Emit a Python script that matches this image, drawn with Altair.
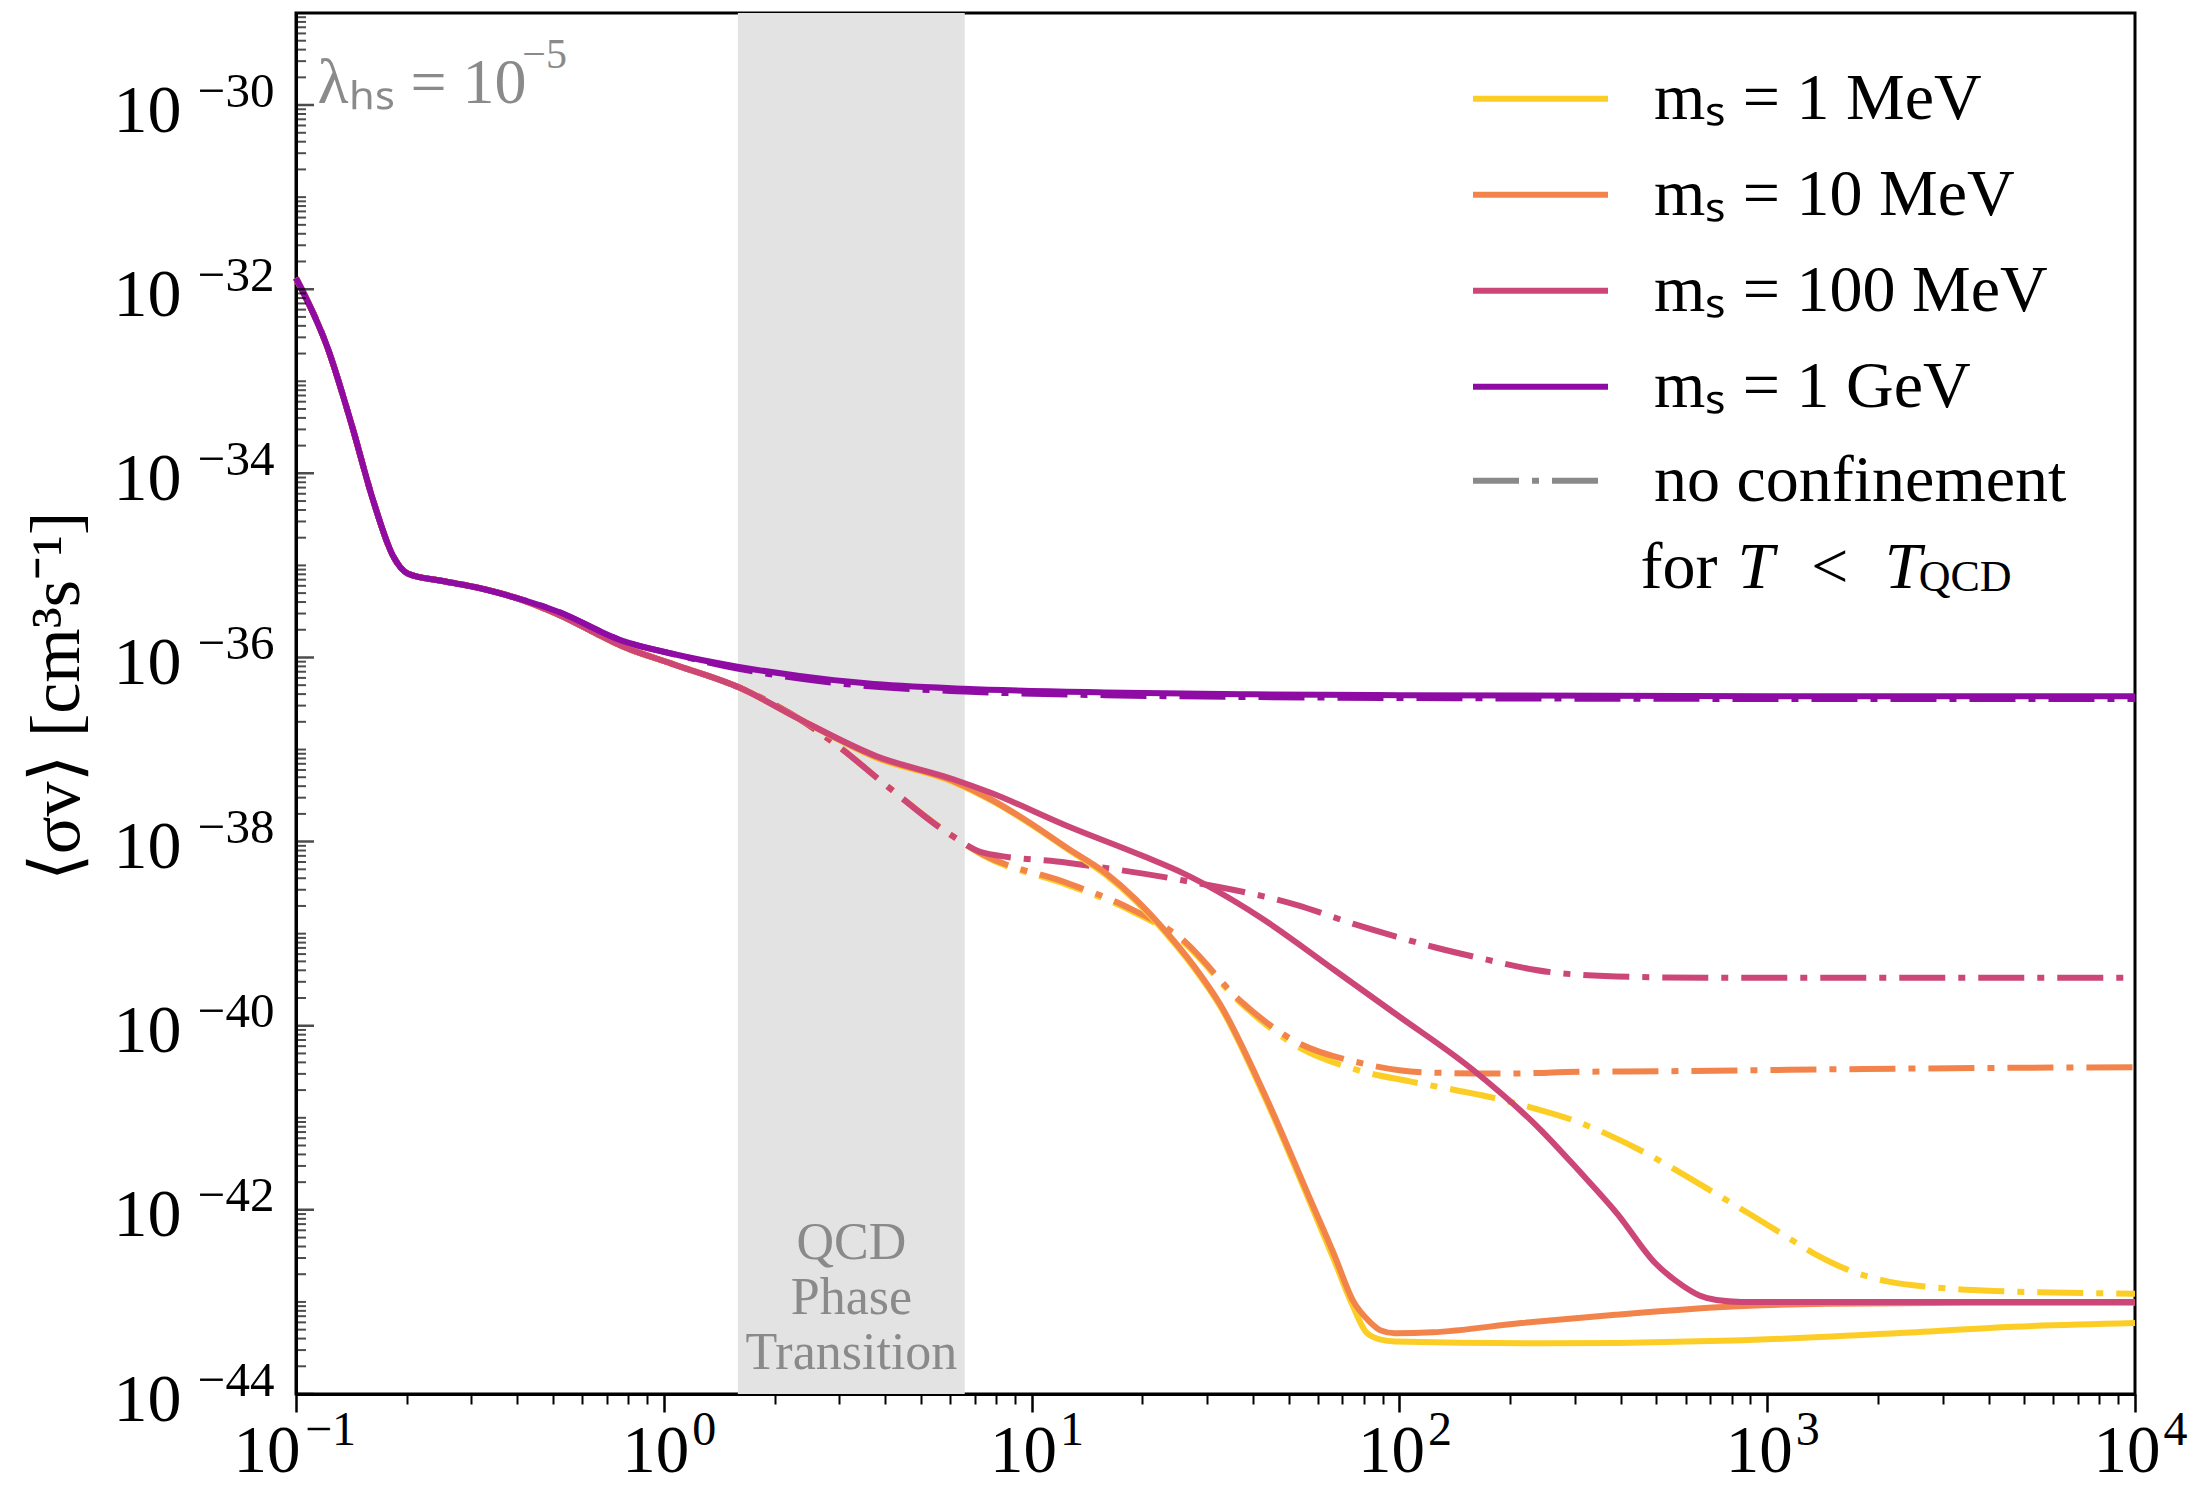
import altair as alt
import numpy as np
import pandas as pd

FONT = "Liberation Serif"

# ---------------- axes / ranges ----------------
X_DOMAIN = [0.1, 1e4]
Y_DOMAIN = [1e-44, 1e-29]
QCD_BAND = [1.59, 6.58]
x_major = [0.1, 1, 10, 100, 1000, 10000]
y_major_exp = [-30, -32, -34, -36, -38, -40, -42, -44]

# ---------------- legend ----------------
mass_labels = ["mₛ = 1 MeV", "mₛ = 10 MeV", "mₛ = 100 MeV", "mₛ = 1 GeV"]
mass_colors = ["#FCCE25", "#F2844B", "#CC4778", "#8E0CA4"]
dash_label = "no confinement"
dash_color = "#8a8a8a"
DASH = [46, 13, 7, 13]

# ---------------- curves: log10(x), log10(<sigma v>) ----------------
common_lx = [-1.0, -0.913, -0.851, -0.789, -0.737, -0.695, -0.601, -0.508, -0.404]
common_ly = [-31.88, -32.65, -33.44, -34.31, -34.89, -35.09, -35.17, -35.24, -35.35]

purple_lx = [-0.289, -0.112, 0.023, 0.2, 0.369, 0.55, 0.817, 1.2, 1.6, 2.0, 3.0, 4.0]
purple_ly = [-35.50, -35.82, -35.96, -36.10, -36.20, -36.28, -36.34, -36.38, -36.40, -36.41, -36.42, -36.42]
purple_dd_ly = [-35.50, -35.82, -35.96, -36.12, -36.23, -36.31, -36.37, -36.41, -36.43, -36.44, -36.45, -36.45]

light_lx = [-0.289, -0.112, 0.023, 0.207, 0.369]
light_ly = [-35.53, -35.88, -36.07, -36.33, -36.67]

yellow_lx = [0.577, 0.785, 0.889, 0.993, 1.097, 1.201, 1.284, 1.368, 1.441, 1.513, 1.632, 1.758,
             1.823, 1.873, 1.91, 1.95, 1.988, 2.396, 2.906, 3.35, 3.671, 4.0]
yellow_ly = [-37.09, -37.35, -37.55, -37.80, -38.08, -38.36, -38.65, -39.01, -39.37, -39.79, -40.76, -41.93,
             -42.55, -43.04, -43.33, -43.41, -43.43, -43.45, -43.42, -43.34, -43.27, -43.23]
orange_lx = [0.577, 0.785, 0.889, 0.993, 1.097, 1.201, 1.284, 1.368, 1.441, 1.513, 1.632, 1.758,
             1.823, 1.873, 1.918, 1.95, 1.988, 2.09, 2.331, 2.587, 2.906, 3.16, 3.54, 4.0]
orange_ly = [-37.08, -37.34, -37.54, -37.79, -38.07, -38.34, -38.63, -38.99, -39.35, -39.77, -40.73, -41.89,
             -42.49, -42.98, -43.21, -43.31, -43.34, -43.33, -43.23, -43.14, -43.05, -43.02, -43.01, -43.01]
pink_lx = [0.577, 0.785, 0.889, 1.097, 1.305, 1.41, 1.617, 1.825, 1.989, 2.197, 2.384, 2.487, 2.592,
           2.696, 2.769, 2.816, 2.862, 2.93, 3.5, 4.0]
pink_ly = [-37.07, -37.32, -37.47, -37.83, -38.16, -38.34, -38.81, -39.40, -39.87, -40.47, -41.13, -41.57,
           -42.04, -42.58, -42.82, -42.93, -42.98, -43.0, -43.0, -43.0]

dd_lx = [0.473, 0.608, 0.785]
dd_ly = [-36.96, -37.40, -37.94]
yellow_dd_lx = [0.868, 1.097, 1.254, 1.409, 1.565, 1.708, 1.885, 2.028, 2.154, 2.258, 2.364, 2.468,
                2.566, 2.667, 2.759, 2.854, 2.95, 3.04, 3.13, 3.232, 3.33, 3.45, 3.618, 4.0]
yellow_dd_ly = [-38.15, -38.47, -38.72, -39.08, -39.74, -40.19, -40.48, -40.605, -40.70, -40.785, -40.894,
                -41.02, -41.18, -41.377, -41.584, -41.81, -42.04, -42.26, -42.48, -42.67, -42.78, -42.84,
                -42.88, -42.91]
orange_dd_lx = [0.868, 1.097, 1.254, 1.409, 1.565, 1.708, 1.895, 2.072, 2.272, 2.504, 2.707, 2.926,
                3.139, 3.36, 4.0]
orange_dd_ly = [-38.14, -38.45, -38.70, -39.06, -39.72, -40.15, -40.405, -40.507, -40.52, -40.50, -40.495,
                -40.485, -40.475, -40.466, -40.45]
pink_dd_lx = [0.868, 1.097, 1.409, 1.722, 1.88, 1.989, 2.098, 2.2025, 2.4155, 2.634, 2.9, 4.0]
pink_dd_ly = [-38.12, -38.23, -38.42, -38.69, -38.90, -39.03, -39.15, -39.25, -39.42, -39.47, -39.48, -39.48]

# ---------------- helpers ----------------
xscale = alt.Scale(type="log", domain=X_DOMAIN, nice=False)
yscale = alt.Scale(type="log", domain=Y_DOMAIN, nice=False)
EXP = "round(log(datum.value)/LN10)"
SUP_EXPR = f"{EXP} < 0 ? '−' + abs({EXP}) : '' + {EXP}"

color_enc = alt.Color(
    "series:N",
    scale=alt.Scale(domain=mass_labels, range=mass_colors),
    legend=alt.Legend(
        title=None, orient="none", legendX=1174, legendY=38,
        symbolType="stroke", symbolSize=18225, symbolStrokeWidth=6,
        labelFont=FONT, labelFontSize=66, labelColor="black", labelOffset=43,
        rowPadding=0, clipHeight=95.5,
        labelLimit=800, padding=0,
    ),
)
dash_enc = alt.StrokeDash(
    "kind:N",
    scale=alt.Scale(domain=[dash_label], range=[DASH]),
    legend=alt.Legend(
        title=None, orient="none", legendX=1174, legendY=420,
        symbolType="stroke", symbolSize=18225, symbolStrokeWidth=6,
        symbolStrokeColor=dash_color, clipHeight=95.5,
        labelFont=FONT, labelFontSize=66, labelColor="black", labelOffset=43,
        labelLimit=800, padding=0,
    ),
)


def xy(xaxis=None, yaxis=None):
    return dict(
        x=alt.X("x:Q", scale=xscale, axis=xaxis),
        y=alt.Y("y:Q", scale=yscale, axis=yaxis),
    )


def curve(label, lx, ly, dashed):
    df = pd.DataFrame({
        "x": np.power(10.0, np.array(lx, dtype=float)),
        "y": np.power(10.0, np.array(ly, dtype=float)),
        "series": label,
        "kind": dash_label if dashed else "solid",
    })
    enc = xy()
    enc["color"] = color_enc
    if dashed:
        enc["strokeDash"] = dash_enc
    return alt.Chart(df).mark_line(strokeWidth=6, interpolate="monotone").encode(**enc)


def text_layer(lx, ly, text, **kw):
    df = pd.DataFrame({"x": [10.0 ** lx], "y": [10.0 ** ly]})
    return alt.Chart(df).mark_text(text=text, font=FONT, **kw).encode(**xy())


carrier_df = pd.DataFrame({"x": [1.0], "y": [1e-36]})


def axis_carrier(xaxis=None, yaxis=None):
    return alt.Chart(carrier_df).mark_point(opacity=0).encode(**xy(xaxis, yaxis))


def label_axis(orient, values, expr, size, pad, **kw):
    return alt.Axis(orient=orient, values=values, labelExpr=expr, ticks=False, tickSize=0,
                    domain=False, grid=False, title=None, labelFont=FONT, labelFontSize=size,
                    labelColor="black", labelPadding=pad, labelFlush=False, labelOverlap=False,
                    labelBaseline="alphabetic", **kw)


# ---------------- band ----------------
band_df = pd.DataFrame({"x": [QCD_BAND[0]], "x2": [QCD_BAND[1]]})
band = alt.Chart(band_df).mark_rect(color="#e3e3e3").encode(
    x=alt.X("x:Q", scale=xscale, axis=None), x2="x2:Q")

qcd_text = text_layer(0.51, -42.364, ["QCD", "Phase", "Transition"], fontSize=52,
                      color="#8a8a8a", align="center", baseline="middle", lineHeight=55)

lines = [
    curve(mass_labels[0], common_lx + light_lx + dd_lx + yellow_dd_lx,
          common_ly + light_ly + dd_ly + yellow_dd_ly, True),
    curve(mass_labels[1], common_lx + light_lx + dd_lx + orange_dd_lx,
          common_ly + light_ly + dd_ly + orange_dd_ly, True),
    curve(mass_labels[2], common_lx + light_lx + dd_lx + pink_dd_lx,
          common_ly + light_ly + dd_ly + pink_dd_ly, True),
    curve(mass_labels[3], common_lx + purple_lx, common_ly + purple_dd_ly, True),
    curve(mass_labels[0], common_lx + light_lx + yellow_lx, common_ly + light_ly + yellow_ly, False),
    curve(mass_labels[1], common_lx + light_lx + orange_lx, common_ly + light_ly + orange_ly, False),
    curve(mass_labels[2], common_lx + light_lx + pink_lx, common_ly + light_ly + pink_ly, False),
    curve(mass_labels[3], common_lx + purple_lx, common_ly + purple_ly, False),
]

texts = [
    text_layer(-0.9416, -29.98, "λₕₛ = 10", fontSize=64, color="#8a8a8a", align="left",
               baseline="alphabetic"),
    text_layer(-0.385, -29.60, "−5", fontSize=42, color="#8a8a8a", align="left", baseline="alphabetic"),
    text_layer(2.6555, -35.03, "for", fontSize=66, color="black", align="left", baseline="middle"),
    text_layer(2.919, -35.03, "T\u2002<\u2002T", fontSize=66, color="black", align="left",
               baseline="middle", fontStyle="italic"),
    text_layer(3.412, -35.135, "QCD", fontSize=44, color="black", align="left", baseline="middle"),
]

# ---------------- ticks ----------------
y_major_vals = [10.0 ** e for e in y_major_exp]
y_minor_vals = [k * 10.0 ** e for e in range(-44, -29) for k in range(1, 10)
                if not (k == 1 and e in y_major_exp)]
x_minor_vals = [k * 10.0 ** e for e in range(-1, 4) for k in range(2, 10)]

ymaj_df = pd.DataFrame({"x": X_DOMAIN[0], "y": y_major_vals})
ymin_df = pd.DataFrame({"x": X_DOMAIN[0], "y": y_minor_vals})
ytick_major = alt.Chart(ymaj_df).mark_tick(orient="horizontal", size=36, thickness=2.5,
                                           color="black", clip=True).encode(**xy())
ytick_minor = alt.Chart(ymin_df).mark_tick(orient="horizontal", size=20, thickness=2,
                                           color="black", clip=True).encode(**xy())

# ---------------- axes (each carried by its own invisible layer) ----------------
ax_x_major = alt.Axis(orient="bottom", values=x_major, labels=False, tickSize=18, tickWidth=2.5,
                      tickColor="black", domain=True, domainColor="black", domainWidth=3,
                      grid=False, title=None)
ax_x_minor = alt.Axis(orient="bottom", values=x_minor_vals, labels=False, tickSize=10, tickWidth=2,
                      tickColor="black", domain=False, grid=False, title=None)
ax_x_10_first = label_axis("bottom", x_major[:1], "'10'", 67, 77, labelAlign="center", labelOffset=-29.5)
ax_x_10_rest = label_axis("bottom", x_major[1:], "'10'", 67, 77, labelAlign="center", labelOffset=-8.5)
ax_x_sup_first = label_axis("bottom", x_major[:1], SUP_EXPR, 48, 50, labelAlign="center", labelOffset=34)
ax_x_sup_rest = label_axis("bottom", x_major[1:], SUP_EXPR, 48, 50, labelAlign="center", labelOffset=40)

ax_y_10 = alt.Axis(orient="left", values=y_major_vals, labelExpr="'10'", ticks=False, tickSize=0,
                   domain=True, domainColor="black", domainWidth=3, grid=False,
                   labelFont=FONT, labelFontSize=68, labelColor="black", labelPadding=115,
                   labelAlign="right", labelBaseline="alphabetic", labelOffset=26,
                   labelFlush=False, labelOverlap=False,
                   title="⟨σv⟩ [cm³s⁻¹]", titleFont=FONT, titleFontSize=70, titleFontWeight="normal",
                   titleColor="black", titleX=-239, titleY=683, titleBaseline="middle",
                   titleAngle=270, titleAlign="center")
ax_y_sup = label_axis("left", y_major_vals, SUP_EXPR, 49, 22, labelAlign="right", labelOffset=1)

axes_layers = [
    axis_carrier(xaxis=ax_x_major),
    axis_carrier(xaxis=ax_x_minor),
    axis_carrier(xaxis=ax_x_10_first),
    axis_carrier(xaxis=ax_x_10_rest),
    axis_carrier(xaxis=ax_x_sup_first),
    axis_carrier(xaxis=ax_x_sup_rest),
    axis_carrier(yaxis=ax_y_10),
    axis_carrier(yaxis=ax_y_sup),
]

chart = alt.layer(
    band, qcd_text, *lines, *texts, ytick_major, ytick_minor, *axes_layers
).resolve_axis(x="independent", y="independent").properties(
    width=1839, height=1381,
    padding={"left": 296, "top": 13, "right": 68, "bottom": 92},
    autosize=alt.AutoSizeParams(type="none"),
    background="white",
).configure(font=FONT).configure_view(stroke="black", strokeWidth=3)

chart.save("out.html", embed_options={"renderer": "svg", "actions": False})
